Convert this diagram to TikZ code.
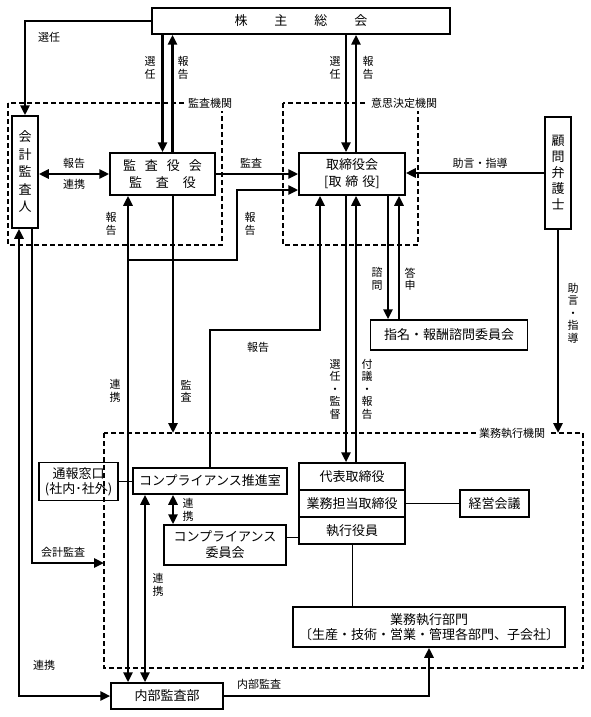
\documentclass[tikz,border=0pt]{standalone}
\usepackage{fontspec}
\setmainfont{Noto Sans CJK JP}
\usetikzlibrary{arrows.meta}

\begin{document}
\begin{tikzpicture}[x=1pt,y=-1pt,>={Triangle[length=10pt,width=9pt]},
      box/.style={draw,line width=1.5pt,inner sep=1pt,align=center,font=\fontsize{13}{17}\selectfont},
      arr/.style={->,line width=2.9pt},
      arrs/.style={<->,line width=2.9pt},
      thin/.style={line width=1pt},
      mid/.style={line width=1.5pt},
      area/.style={draw,line width=1.3pt,dash pattern=on 5pt off 3pt},
      lab/.style={font=\fontsize{11}{12.5}\selectfont,inner sep=1pt,align=center},
      tag/.style={lab,fill=white,inner sep=3pt}]
      \useasboundingbox (0,0) rectangle (591,717);
      \node[box,minimum width=298pt,minimum height=26pt] (kabu) at (301,21) {株\hspace{27pt}主\hspace{27pt}総\hspace{27pt}会};
      \node[box,minimum width=26pt,minimum height=112pt,font=\fontsize{13}{17.5}\selectfont] (kaikei) at (25,172) {会\\計\\監\\査\\人};
      \node[box,minimum width=105pt,minimum height=42pt] (kansa) at (162.5,174) {監\hspace{9pt}査\hspace{9pt}役\hspace{9pt}会\\監\hspace{14pt}査\hspace{14pt}役};
      \node[box,minimum width=106pt,minimum height=42pt] (tori) at (352,174) {取締役会\\{[}取\hspace{4pt}締\hspace{4pt}役{]}};
      \node[box,minimum width=26pt,minimum height=112pt,font=\fontsize{13}{16}\selectfont] (komon) at (558,173) {顧\\問\\弁\\護\\士};
      \node[box,minimum width=157pt,minimum height=30pt] (shimei) at (449,335) {指名・報酬諮問委員会};
      \node[box,minimum width=106pt,minimum height=27pt] (daihyo) at (352,476.5) {代表取締役};
      \node[box,minimum width=106pt,minimum height=27pt] (tanto) at (352,503.5) {業務担当取締役};
      \node[box,minimum width=106pt,minimum height=27pt] (yakuin) at (352,530.5) {執行役員};
      \node[box,minimum width=69pt,minimum height=27pt] (keiei) at (494.5,503.5) {経営会議};
      \node[box,minimum width=272pt,minimum height=40pt,font=\fontsize{13}{14.5}\selectfont] (bumon) at (429,627) {業務執行部門\\〔生産・技術・営業・管理各部門、子会社〕};
      \node[box,minimum width=154pt,minimum height=26pt] (suishin) at (210,481) {コンプライアンス推進室};
      \node[box,minimum width=79pt,minimum height=38pt,font=\fontsize{13}{15}\selectfont] (madoguchi) at (78.5,481.5) {通報窓口\\(社内･社外)};
      \node[box,minimum width=122pt,minimum height=40pt,font=\fontsize{13}{16}\selectfont] (iinkai) at (225,545) {コンプライアンス\\委員会};
      \node[box,minimum width=112pt,minimum height=26pt] (naibu) at (167,696) {内部監査部};

      \draw[area] (8,103) rectangle (222,245);
      \draw[area] (283,103) rectangle (418,245);
      \draw[area] (104,433) rectangle (583,668);
      \node[tag] (tkansa) at (210,103) {監査機関};
      \node[tag] (tishi) at (404,103) {意思決定機関};
      \node[tag] (tgyomu) at (512,433) {業務執行機関};

      \coordinate (gtop) at (558,433);
      \coordinate (gleft) at (104,563);
      \coordinate (j1) at (128,260);
      \coordinate (j2) at (237,190);
      \coordinate (j3) at (320,330);

      \draw[arr] (kabu.west) -| (kaikei.north);
      \draw[arr] (kabu.south -| kansa.north) -- (kansa.north);
      \draw[arr] ([xshift=10pt]kansa.north) -- ([xshift=10pt]kansa.north |- kabu.south);
      \draw[arr] ([xshift=-6pt]tori.north |- kabu.south) -- ([xshift=-6pt]tori.north);
      \draw[arr] ([xshift=4pt]tori.north) -- ([xshift=4pt]tori.north |- kabu.south);
      \draw[arrs] (kaikei.east |- kansa.west) -- (kansa.west);
      \draw[arr] (kansa.east) -- (tori.west);
      \draw[arr] (komon.west) -- (komon.west -| tori.east);
      \draw[arr] (komon.south) -- (gtop);
      \draw[arrs] ([xshift=-6pt]kaikei.south) |- (naibu.west);
      \draw[arr] ([xshift=7pt]kaikei.south) |- (gleft);
      \draw[arrs] ([xshift=-39pt]naibu.north) -- ([xshift=-39pt]naibu.north |- kansa.south);
      \draw[arr] (j1) -| (j2) -- (j2 -| tori.west);
      \draw[arr] ([xshift=10.5pt]kansa.south) -- ([xshift=10.5pt]kansa.south |- gtop);
      \draw[arr] (suishin.north) |- (j3) -- (j3 |- tori.south);
      \draw[arr] ([xshift=-6pt]tori.south) -- ([xshift=-6pt]daihyo.north);
      \draw[arr] ([xshift=4pt]daihyo.north) -- ([xshift=4pt]tori.south);
      \draw[arr] ([xshift=36pt]tori.south) -- ([xshift=36pt]tori.south |- shimei.north);
      \draw[arr] ([xshift=47pt]tori.south |- shimei.north) -- ([xshift=47pt]tori.south);
      \draw[thin] (tanto.east) -- (keiei.west);
      \draw[thin] (yakuin.south) -- (yakuin.south |- bumon.north);
      \draw[thin] (madoguchi.east |- suishin.west) -- (suishin.west);
      \draw[mid] (iinkai.7.5) -- (iinkai.7.5 -| yakuin.west);
      \draw[arrs] ([xshift=-37pt]suishin.south) -- ([xshift=-37pt]suishin.south |- iinkai.north);
      \draw[arrs] ([xshift=-65pt]suishin.south) -- ([xshift=-65pt]suishin.south |- naibu.north);
      \draw[arr] (naibu.east) -| (bumon.south);

      \node[lab] (l1) at (49,37) {選任};
      \node[lab] (l2) at (150,68) {選\\任};
      \node[lab] (l3) at (183,68) {報\\告};
      \node[lab] (l4) at (335,68) {選\\任};
      \node[lab] (l5) at (368,68) {報\\告};
      \node[lab] (l6) at (74,163) {報告};
      \node[lab] (l7) at (74,184) {連携};
      \node[lab] (l8) at (251,163) {監査};
      \node[lab] (l9) at (480,163) {助言・指導};
      \node[lab] (l10) at (111,224) {報\\告};
      \node[lab] (l11) at (250,224) {報\\告};
      \node[lab] (l12) at (258,347) {報告};
      \node[lab] (l13) at (115,391) {連\\携};
      \node[lab] (l14) at (186,391) {監\\査};
      \node[lab] (l15) at (377,279) {諮\\問};
      \node[lab] (l16) at (410,279) {答\\申};
      \node[lab] (l17) at (573,313) {助\\言\\・\\指\\導};
      \node[lab] (l18) at (335,389) {選\\任\\・\\監\\督};
      \node[lab] (l19) at (367,389) {付\\議\\・\\報\\告};
      \node[lab] (l20) at (188,510) {連\\携};
      \node[lab] (l21) at (63,552) {会計監査};
      \node[lab] (l22) at (158,585) {連\\携};
      \node[lab] (l23) at (44,665) {連携};
      \node[lab] (l24) at (259,684) {内部監査};
    \end{tikzpicture}
\end{document}
